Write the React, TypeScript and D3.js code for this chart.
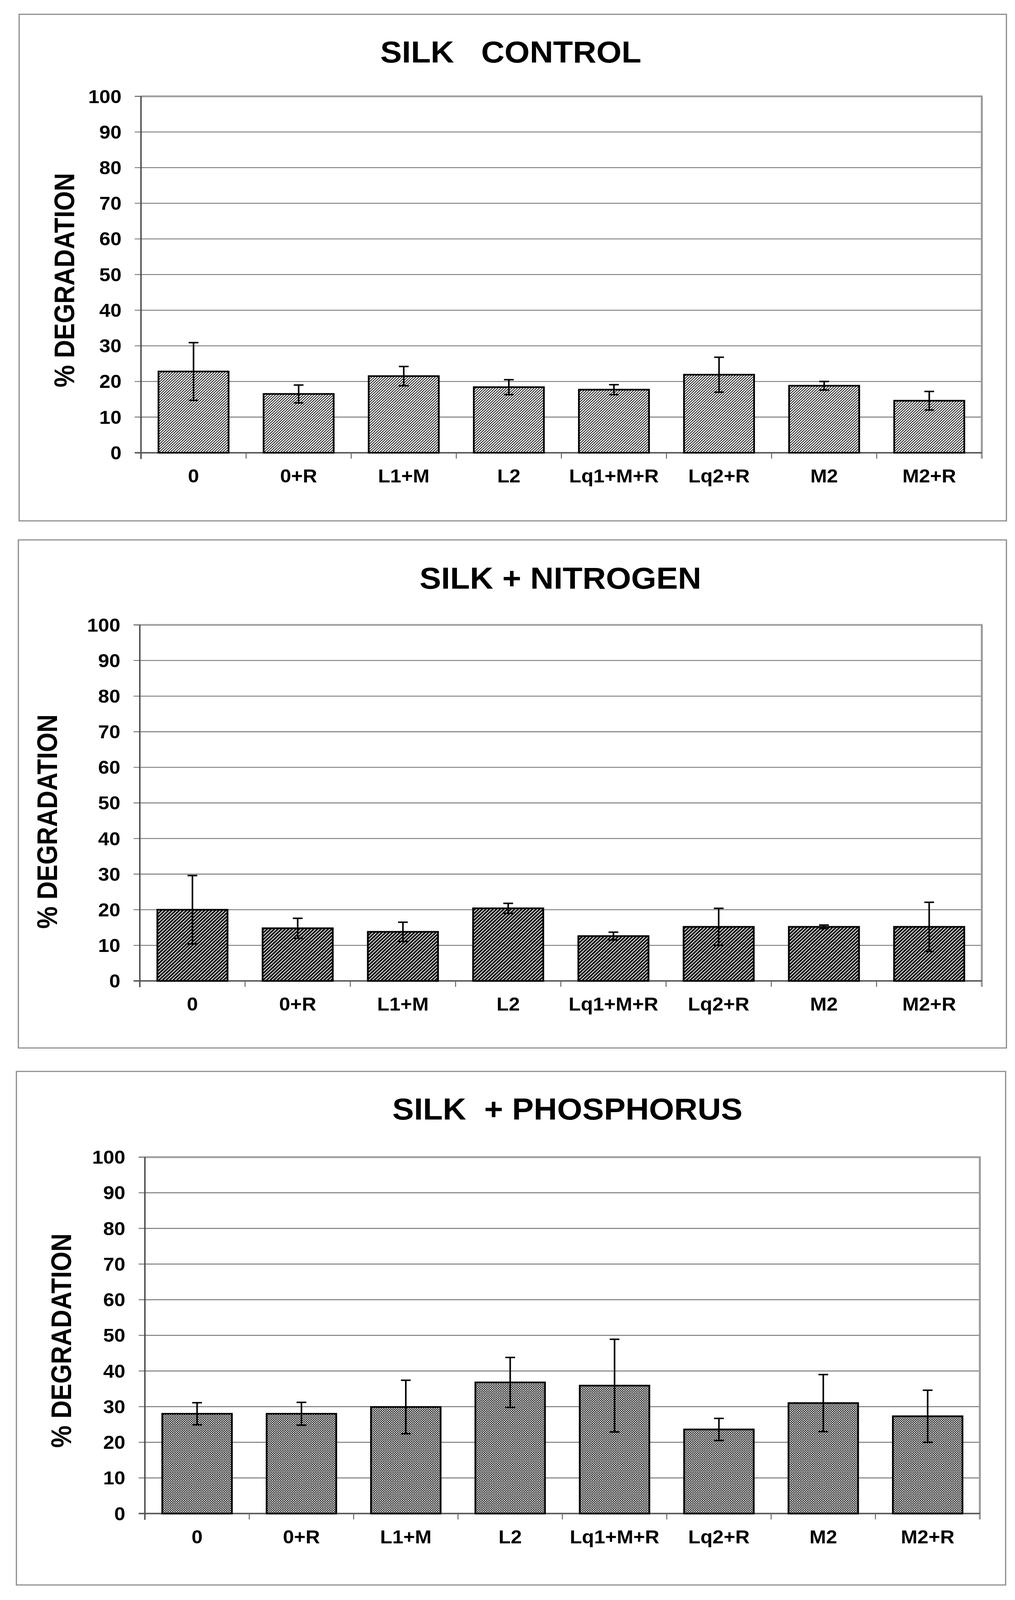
import { useRef, useEffect } from 'react';
import * as d3 from 'd3';

const W = 2599;
const H = 4368;

const categories = ['0', '0+R', 'L1+M', 'L2', 'Lq1+M+R', 'Lq2+R', 'M2', 'M2+R'];
const yTicks = [0, 10, 20, 30, 40, 50, 60, 70, 80, 90, 100];
const yLabel = '% DEGRADATION';
const titles = ['SILK   CONTROL', 'SILK + NITROGEN', 'SILK  + PHOSPHORUS'];

const controlMeans = [22.8, 16.5, 21.5, 18.4, 17.7, 21.9, 18.8, 14.6];
const controlErrors = [8.1, 2.5, 2.7, 2.1, 1.4, 4.9, 1.2, 2.6];

const nitrogenMeans = [20.0, 14.8, 13.8, 20.4, 12.6, 15.2, 15.2, 15.2];
const nitrogenErrors = [9.6, 2.8, 2.7, 1.4, 1.1, 5.2, 0.5, 6.9];

const phosphorusMeans = [28.0, 28.0, 29.9, 36.8, 35.9, 23.6, 31.0, 27.3];
const phosphorusErrors = [3.1, 3.2, 7.5, 7.0, 13.0, 3.1, 8.0, 7.3];

const seriesMeans = [controlMeans, nitrogenMeans, phosphorusMeans];
const seriesErrors = [controlErrors, nitrogenErrors, phosphorusErrors];

// panel geometry (pixels)
const layouts = [
  { frame: [49, 39, 2577, 1422], plot: [361, 263, 2514, 1236], titleX: 1308, titleY: 171, yTitleX: 164, yTitleY: 765 },
  { frame: [47, 1474, 2577, 2861], plot: [358, 1706, 2514, 2678], titleX: 1435, titleY: 1607, yTitleX: 120, yTitleY: 2243 },
  { frame: [42, 2925, 2575, 4327], plot: [371, 3159, 2509, 4132], titleX: 1453, titleY: 3056, yTitleX: 156, yTitleY: 3660 },
];

const FONT = '"Liberation Sans", Arial, Helvetica, sans-serif';

export default function App() {
  const svgRef = useRef<SVGSVGElement>(null);

  useEffect(() => {
    const svg = d3.select(svgRef.current);
    svg.selectAll('*').remove();

    svg.append('rect').attr('width', W).attr('height', H).attr('fill', '#fff');

    const defs = svg.append('defs');
    // light upward diagonal
    const p1 = defs.append('pattern').attr('id', 'hatch-light')
      .attr('patternUnits', 'userSpaceOnUse').attr('width', 5).attr('height', 5)
      .attr('patternTransform', 'rotate(45)');
    p1.append('rect').attr('width', 5).attr('height', 5).attr('fill', '#fff');
    p1.append('rect').attr('width', 2).attr('height', 5).attr('fill', '#111');
    // dark upward diagonal
    const p2 = defs.append('pattern').attr('id', 'hatch-dark')
      .attr('patternUnits', 'userSpaceOnUse').attr('width', 6.5).attr('height', 6.5)
      .attr('patternTransform', 'rotate(45)');
    p2.append('rect').attr('width', 6.5).attr('height', 6.5).attr('fill', '#fff');
    p2.append('rect').attr('width', 4.5).attr('height', 6.5).attr('fill', '#111');
    // checker texture
    const p3 = defs.append('pattern').attr('id', 'checker')
      .attr('patternUnits', 'userSpaceOnUse').attr('width', 6).attr('height', 6);
    p3.append('rect').attr('width', 6).attr('height', 6).attr('fill', '#e8e8e8');
    p3.append('rect').attr('width', 3).attr('height', 3).attr('fill', '#222');
    p3.append('rect').attr('x', 3).attr('y', 3).attr('width', 3).attr('height', 3).attr('fill', '#222');
    p3.append('rect').attr('x', 4).attr('y', 0).attr('width', 1).attr('height', 1).attr('fill', '#444');
    const fills = ['url(#hatch-light)', 'url(#hatch-dark)', 'url(#checker)'];

    layouts.forEach((lay, i) => {
      const g = svg.append('g');
      const [fx0, fy0, fx1, fy1] = lay.frame;
      const [px0, py0, px1, py1] = lay.plot;

      g.append('rect').attr('x', fx0).attr('y', fy0).attr('width', fx1 - fx0).attr('height', fy1 - fy0)
        .attr('fill', '#fff').attr('stroke', '#8a8a8a').attr('stroke-width', 3);

      const x = d3.scaleBand<string>().domain(categories).range([px0, px1])
        .paddingInner(1 / 3).paddingOuter(1 / 6);
      const step = x.step();
      const y = d3.scaleLinear().domain([0, 100]).range([py1, py0]);

      // gridlines + y ticks
      yTicks.forEach((t) => {
        if (t === 0 || t === 100) return;
        g.append('line').attr('x1', px0 - 16).attr('x2', px1).attr('y1', y(t)).attr('y2', y(t))
          .attr('stroke', '#7a7a7a').attr('stroke-width', 2.5);
      });
      // plot area border top / right
      g.append('line').attr('x1', px0).attr('x2', px1 + 2).attr('y1', y(100)).attr('y2', y(100))
        .attr('stroke', '#a0a0a0').attr('stroke-width', 5);
      g.append('line').attr('x1', px0 - 16).attr('x2', px0).attr('y1', y(100)).attr('y2', y(100))
        .attr('stroke', '#555').attr('stroke-width', 2.5);
      g.append('line').attr('x1', px1).attr('x2', px1).attr('y1', y(100)).attr('y2', y(0) + 16)
        .attr('stroke', '#9a9a9a').attr('stroke-width', 5);

      // y axis
      g.append('line').attr('x1', px0).attr('x2', px0).attr('y1', y(100)).attr('y2', y(0) + 17)
        .attr('stroke', '#444').attr('stroke-width', 3.5);
      // x axis
      g.append('line').attr('x1', px0 - 16).attr('x2', px1).attr('y1', y(0)).attr('y2', y(0))
        .attr('stroke', '#555').attr('stroke-width', 4);
      categories.forEach((c, k) => {
        const bx = (x(c) as number) - step * (1 / 6) + step;
        if (k < categories.length - 1) {
          g.append('line').attr('x1', bx).attr('x2', bx).attr('y1', y(0)).attr('y2', y(0) + 16)
            .attr('stroke', '#666').attr('stroke-width', 2.5);
        }
      });

      // tick labels
      yTicks.forEach((t) => {
        g.append('text').attr('x', px0 - 50).attr('y', y(t) + 18)
          .attr('text-anchor', 'end').attr('font-family', FONT).attr('font-weight', 'bold')
          .attr('font-size', 51).attr('fill', '#000').text(String(t));
      });
      categories.forEach((c) => {
        g.append('text').attr('x', (x(c) as number) + x.bandwidth() / 2).attr('y', y(0) + 81)
          .attr('text-anchor', 'middle').attr('font-family', FONT).attr('font-weight', 'bold')
          .attr('font-size', 51).attr('fill', '#000').text(c);
      });

      // bars
      const means = seriesMeans[i];
      const errs = seriesErrors[i];
      categories.forEach((c, k) => {
        g.append('rect').attr('x', x(c) as number).attr('y', y(means[k]))
          .attr('width', x.bandwidth()).attr('height', y(0) - y(means[k]))
          .attr('fill', fills[i]).attr('stroke', '#000').attr('stroke-width', 4.5);
      });
      // error bars
      categories.forEach((c, k) => {
        const cx = (x(c) as number) + x.bandwidth() / 2;
        const hi = y(means[k] + errs[k]);
        const lo = y(means[k] - errs[k]);
        g.append('line').attr('x1', cx).attr('x2', cx).attr('y1', hi).attr('y2', lo)
          .attr('stroke', '#000').attr('stroke-width', 4);
        [hi, lo].forEach((yy) => {
          g.append('line').attr('x1', cx - 12.5).attr('x2', cx + 12.5).attr('y1', yy).attr('y2', yy)
            .attr('stroke', '#000').attr('stroke-width', 4);
        });
      });

      // titles
      g.append('text').attr('x', lay.titleX).attr('y', lay.titleY)
        .attr('text-anchor', 'middle').attr('font-family', FONT).attr('font-weight', 'bold')
        .attr('font-size', 83).style('white-space', 'pre').attr('fill', '#000').text(titles[i]);
      g.append('text')
        .attr('transform', `translate(${lay.yTitleX},${lay.yTitleY}) rotate(-90)`)
        .attr('dy', '0.36em').attr('text-anchor', 'middle').attr('font-family', FONT)
        .attr('font-weight', 'bold').attr('font-size', 72).attr('fill', '#000')
        .attr('textLength', 585).attr('lengthAdjust', 'spacingAndGlyphs')
        .text(yLabel);
    });
  }, []);

  // fill the visible window so the whole figure is always in view
  return (
    <svg ref={svgRef} viewBox={`0 0 ${W} ${H}`} preserveAspectRatio="none"
      style={{ position: 'fixed', left: 0, top: 0, width: '100vw', height: '100vh', display: 'block' }} />
  );
}
